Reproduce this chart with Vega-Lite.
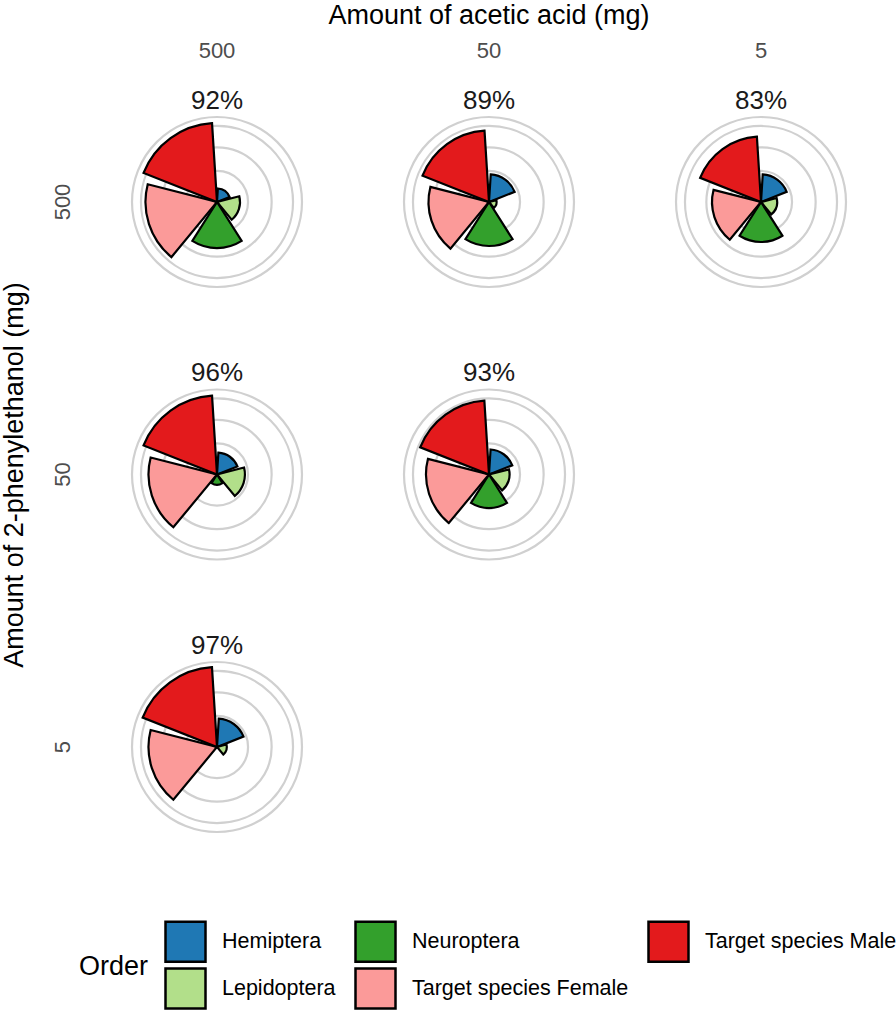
{
  "$schema": "https://vega.github.io/schema/vega-lite/v6.json",
  "padding": {"top": 2, "left": 0, "right": 0, "bottom": 0},
  "bounds": "flush",
  "data": {
    "values": [
      {"acetic": 500, "phenyl": 500, "kind": "sector", "Order": "Hemiptera", "value": 1.9},
      {"acetic": 500, "phenyl": 500, "kind": "sector", "Order": "Lepidoptera", "value": 5.5},
      {"acetic": 500, "phenyl": 500, "kind": "sector", "Order": "Neuroptera", "value": 22.0},
      {"acetic": 500, "phenyl": 500, "kind": "sector", "Order": "Target species Female", "value": 53.1},
      {"acetic": 500, "phenyl": 500, "kind": "sector", "Order": "Target species Male", "value": 64.8},
      {"acetic": 50, "phenyl": 500, "kind": "sector", "Order": "Hemiptera", "value": 7.9},
      {"acetic": 50, "phenyl": 500, "kind": "sector", "Order": "Lepidoptera", "value": 0.6},
      {"acetic": 50, "phenyl": 500, "kind": "sector", "Order": "Neuroptera", "value": 20.1},
      {"acetic": 50, "phenyl": 500, "kind": "sector", "Order": "Target species Female", "value": 38.0},
      {"acetic": 50, "phenyl": 500, "kind": "sector", "Order": "Target species Male", "value": 53.1},
      {"acetic": 5, "phenyl": 500, "kind": "sector", "Order": "Hemiptera", "value": 7.9},
      {"acetic": 5, "phenyl": 500, "kind": "sector", "Order": "Lepidoptera", "value": 2.7},
      {"acetic": 5, "phenyl": 500, "kind": "sector", "Order": "Neuroptera", "value": 16.6},
      {"acetic": 5, "phenyl": 500, "kind": "sector", "Order": "Target species Female", "value": 24.9},
      {"acetic": 5, "phenyl": 500, "kind": "sector", "Order": "Target species Male", "value": 44.5},
      {"acetic": 500, "phenyl": 50, "kind": "sector", "Order": "Hemiptera", "value": 5.0},
      {"acetic": 500, "phenyl": 50, "kind": "sector", "Order": "Lepidoptera", "value": 8.1},
      {"acetic": 500, "phenyl": 50, "kind": "sector", "Order": "Neuroptera", "value": 1.1},
      {"acetic": 500, "phenyl": 50, "kind": "sector", "Order": "Target species Female", "value": 48.7},
      {"acetic": 500, "phenyl": 50, "kind": "sector", "Order": "Target species Male", "value": 64.8},
      {"acetic": 50, "phenyl": 50, "kind": "sector", "Order": "Hemiptera", "value": 6.5},
      {"acetic": 50, "phenyl": 50, "kind": "sector", "Order": "Lepidoptera", "value": 4.4},
      {"acetic": 50, "phenyl": 50, "kind": "sector", "Order": "Neuroptera", "value": 11.7},
      {"acetic": 50, "phenyl": 50, "kind": "sector", "Order": "Target species Female", "value": 41.2},
      {"acetic": 50, "phenyl": 50, "kind": "sector", "Order": "Target species Male", "value": 56.8},
      {"acetic": 500, "phenyl": 5, "kind": "sector", "Order": "Hemiptera", "value": 8.4},
      {"acetic": 500, "phenyl": 5, "kind": "sector", "Order": "Lepidoptera", "value": 1.0},
      {"acetic": 500, "phenyl": 5, "kind": "sector", "Order": "Neuroptera", "value": 0},
      {"acetic": 500, "phenyl": 5, "kind": "sector", "Order": "Target species Female", "value": 48.7},
      {"acetic": 500, "phenyl": 5, "kind": "sector", "Order": "Target species Male", "value": 66.4},

      {"acetic": 500, "phenyl": 500, "kind": "ring", "value": 10},
      {"acetic": 500, "phenyl": 500, "kind": "ring", "value": 31},
      {"acetic": 500, "phenyl": 500, "kind": "ring", "value": 60},
      {"acetic": 500, "phenyl": 500, "kind": "ring", "value": 75},
      {"acetic": 50, "phenyl": 500, "kind": "ring", "value": 10},
      {"acetic": 50, "phenyl": 500, "kind": "ring", "value": 31},
      {"acetic": 50, "phenyl": 500, "kind": "ring", "value": 60},
      {"acetic": 50, "phenyl": 500, "kind": "ring", "value": 75},
      {"acetic": 5, "phenyl": 500, "kind": "ring", "value": 10},
      {"acetic": 5, "phenyl": 500, "kind": "ring", "value": 31},
      {"acetic": 5, "phenyl": 500, "kind": "ring", "value": 60},
      {"acetic": 5, "phenyl": 500, "kind": "ring", "value": 75},
      {"acetic": 500, "phenyl": 50, "kind": "ring", "value": 10},
      {"acetic": 500, "phenyl": 50, "kind": "ring", "value": 31},
      {"acetic": 500, "phenyl": 50, "kind": "ring", "value": 60},
      {"acetic": 500, "phenyl": 50, "kind": "ring", "value": 75},
      {"acetic": 50, "phenyl": 50, "kind": "ring", "value": 10},
      {"acetic": 50, "phenyl": 50, "kind": "ring", "value": 31},
      {"acetic": 50, "phenyl": 50, "kind": "ring", "value": 60},
      {"acetic": 50, "phenyl": 50, "kind": "ring", "value": 75},
      {"acetic": 500, "phenyl": 5, "kind": "ring", "value": 10},
      {"acetic": 500, "phenyl": 5, "kind": "ring", "value": 31},
      {"acetic": 500, "phenyl": 5, "kind": "ring", "value": 60},
      {"acetic": 500, "phenyl": 5, "kind": "ring", "value": 75},

      {"acetic": 500, "phenyl": 500, "kind": "label", "pct": "92%"},
      {"acetic": 50, "phenyl": 500, "kind": "label", "pct": "89%"},
      {"acetic": 5, "phenyl": 500, "kind": "label", "pct": "83%"},
      {"acetic": 500, "phenyl": 50, "kind": "label", "pct": "96%"},
      {"acetic": 50, "phenyl": 50, "kind": "label", "pct": "93%"},
      {"acetic": 500, "phenyl": 5, "kind": "label", "pct": "97%"}
    ]
  },
  "facet": {
    "column": {"field": "acetic", "type": "ordinal", "sort": "descending", "title": "Amount of acetic acid (mg)"},
    "row": {"field": "phenyl", "type": "ordinal", "sort": "descending", "title": "Amount of 2-phenylethanol (mg)"}
  },
  "spacing": {"row": 42.5, "column": 42},
  "spec": {
    "width": 230,
    "height": 230,
    "layer": [
      {
        "transform": [{"filter": "datum.kind === 'ring'"}],
        "mark": {"type": "arc", "theta": 0, "theta2": 6.2832, "filled": false, "stroke": "#d0d0d0", "strokeWidth": 2.2},
        "encoding": {
          "radius": {"field": "value", "type": "quantitative", "stack": null, "scale": {"type": "sqrt", "domain": [0, 75], "range": [0, 85], "nice": false, "zero": true}}
        }
      },
      {
        "transform": [
          {"filter": "datum.kind === 'sector'"},
          {"joinaggregate": [{"op": "count", "as": "n"}], "groupby": ["acetic", "phenyl", "Order"]},
          {"stack": "n", "groupby": ["acetic", "phenyl"], "sort": [{"field": "Order", "order": "ascending"}], "as": ["slotStart", "slotEnd"], "offset": "zero"}
        ],
        "mark": {"type": "arc", "stroke": "#000000", "strokeWidth": 2.2, "padAngle": 0.1257},
        "encoding": {
          "theta": {"field": "slotStart", "type": "quantitative", "stack": null, "scale": {"domain": [0, 5], "range": [0, 6.2832], "nice": false, "zero": true}},
          "theta2": {"field": "slotEnd"},
          "radius": {"field": "value", "type": "quantitative", "stack": null, "scale": {"type": "sqrt", "domain": [0, 75], "range": [0, 85], "nice": false, "zero": true}},
          "color": {
            "field": "Order", "type": "nominal",
            "scale": {
              "domain": ["Hemiptera", "Neuroptera", "Target species Male", "Lepidoptera", "Target species Female"],
              "range": ["#1F78B4", "#33A02C", "#E31A1C", "#B2DF8A", "#FB9A99"]
            },
            "legend": {
              "orient": "none", "legendX": -23, "legendY": 833,
              "direction": "horizontal", "columns": 3,
              "title": "Order", "titleOrient": "left", "titleAnchor": "middle", "titleBaseline": "middle",
              "titleFontSize": 27, "titleFont": "Liberation Sans", "titleFontWeight": "normal", "titleColor": "#000000", "titlePadding": 15,
              "labelFontSize": 21.5, "labelFont": "Liberation Sans", "labelColor": "#000000", "labelOffset": 15, "labelLimit": 400,
              "symbolType": "square", "symbolSize": 1600, "symbolStrokeColor": "#000000", "symbolStrokeWidth": 2.5, "symbolOpacity": 1,
              "columnPadding": 14, "rowPadding": -12, "padding": 0
            }
          }
        }
      },
      {
        "transform": [{"filter": "datum.kind === 'label'"}],
        "mark": {"type": "text", "theta": 0, "fontSize": 26, "font": "Liberation Sans", "baseline": "middle", "align": "center", "color": "#1a1a1a"},
        "encoding": {
          "radius": {"datum": 106, "type": "quantitative", "stack": null, "scale": {"type": "sqrt", "domain": [0, 75], "range": [0, 85], "nice": false, "zero": true}},
          "text": {"field": "pct"}
        }
      }
    ]
  },
  "config": {
    "view": {"stroke": "transparent"},
    "font": "Liberation Sans",
    "header": {
      "labelFontSize": 22, "labelColor": "#4d4d4d", "labelFont": "Liberation Sans",
      "titleFontSize": 27, "titleFont": "Liberation Sans", "titleFontWeight": "normal", "titleColor": "#000000"
    },
    "headerColumn": {"labelPadding": 24, "titlePadding": 0},
    "headerRow": {"labelPadding": 17, "titlePadding": 13, "labelAngle": -90}
  }
}
